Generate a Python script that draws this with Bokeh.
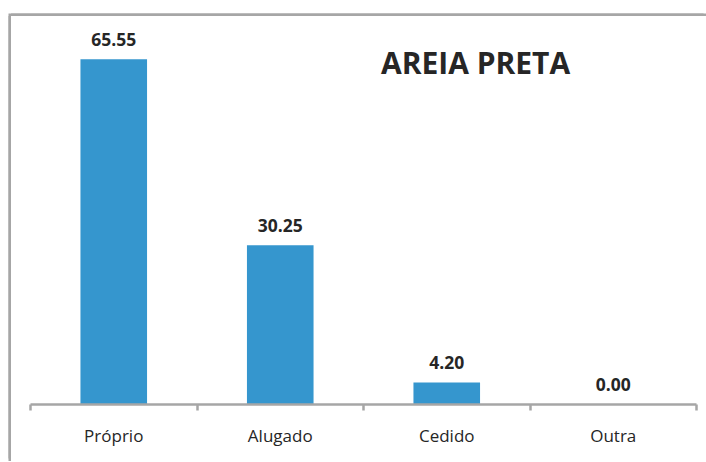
from bokeh.plotting import figure
from bokeh.models import (FactorRange, Range1d, LinearAxis, CategoricalAxis,
                          FixedTicker, Label, ColumnDataSource, CustomJSTickFormatter)
from bokeh.core.properties import value
from bokeh.embed import file_html
from bokeh.resources import INLINE

# ---- data ----
categories = ["Próprio", "Alugado", "Cedido", "Outra"]
values = [65.55, 30.25, 4.20, 0.00]
value_labels = ["65.55", "30.25", "4.20", "0.00"]
title_text = "AREIA PRETA"

# ---- styles ----
FONT = "Open Sans"
GRAY = "#a6a6a6"
TEXT = "#262626"
BAR = "#3596ce"

src = ColumnDataSource(dict(cat=categories, val=values, lab=value_labels))

p = figure(width=695, height=445,
           x_range=FactorRange(*categories, range_padding=0),
           y_range=Range1d(0, 72.9),
           output_backend="svg", toolbar_location=None,
           x_axis_location=None, y_axis_location=None,
           min_border_left=19, min_border_right=10,
           min_border_top=4, min_border_bottom=57)
p.margin = (16, 0, 0, 11)
p.styles = {"box-shadow": "0 -2.5px 0 0 #a6a6a6, -2.5px 0 0 0 #a6a6a6, -2.5px -2.5px 0 0 #a6a6a6"}
p.outline_line_color = None
p.background_fill_color = "white"
p.border_fill_color = "white"
p.grid.visible = False

# tick axis at category boundaries (synthetic coordinates 0..N of the factor range)
tick_axis = LinearAxis(ticker=FixedTicker(ticks=list(range(len(categories) + 1))),
                       formatter=CustomJSTickFormatter(code="return ''"))
tick_axis.axis_line_color = GRAY
tick_axis.axis_line_width = 2.5
tick_axis.major_tick_line_color = GRAY
tick_axis.major_tick_line_width = 2.5
tick_axis.major_tick_in = 0
tick_axis.major_tick_out = 6
tick_axis.minor_tick_line_color = None
tick_axis.major_label_standoff = 0
p.add_layout(tick_axis, "below")

cat_axis = CategoricalAxis()
cat_axis.axis_line_color = None
cat_axis.major_tick_line_color = None
cat_axis.minor_tick_line_color = None
cat_axis.major_tick_in = 0
cat_axis.major_tick_out = 0
cat_axis.major_label_standoff = 13
cat_axis.major_label_text_font = FONT
cat_axis.major_label_text_font_size = "17px"
cat_axis.major_label_text_color = TEXT
p.add_layout(cat_axis, "below")

p.vbar(x="cat", top="val", width=0.4, source=src,
       fill_color=BAR, line_color=None)

p.text(x="cat", y="val", text="lab", source=src,
       text_font=value(FONT), text_font_size="17.5px", text_font_style="bold",
       text_color=TEXT, text_align="center", text_baseline="alphabetic",
       y_offset=-20)

p.add_layout(Label(x=2.673, y=65.0, text=title_text,
                   text_font=FONT, text_font_size="30px", text_font_style="bold",
                   text_color=TEXT, text_align="center", text_baseline="alphabetic"))

open("out.html", "w").write(file_html(p, INLINE))
